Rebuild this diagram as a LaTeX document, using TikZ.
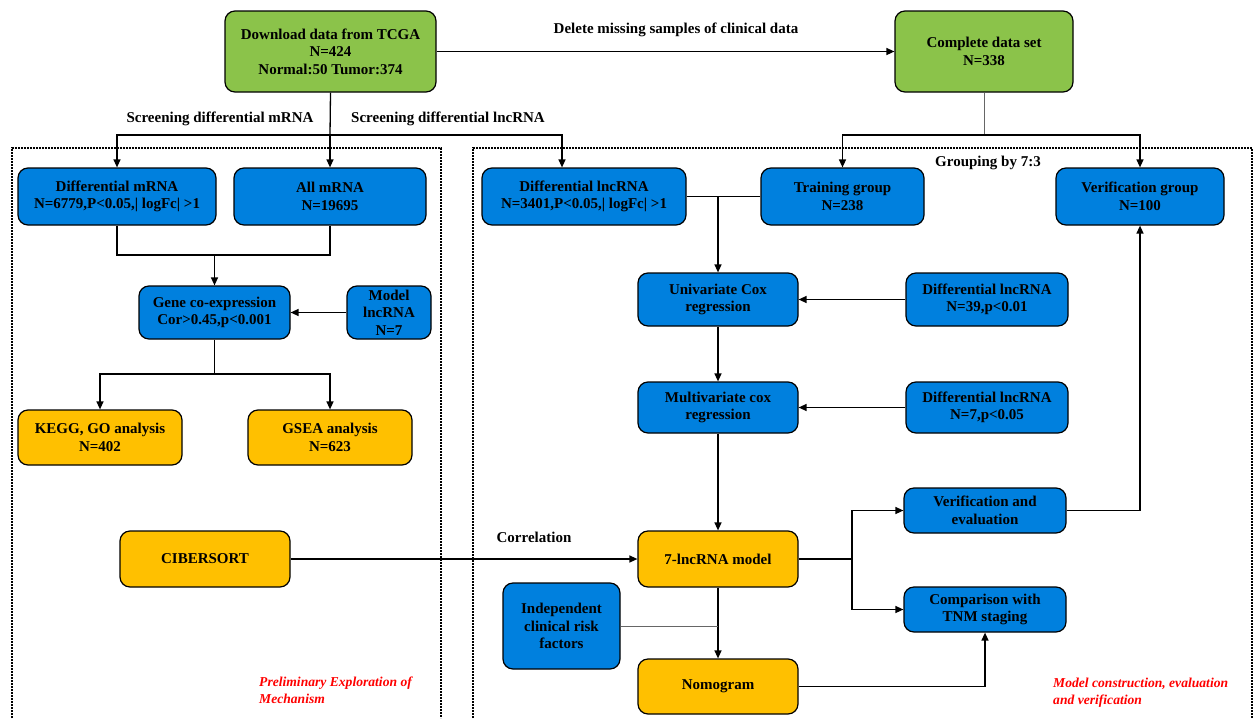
\documentclass[tikz,border=0pt]{standalone}
\usepackage{fontspec}
\setmainfont{Liberation Serif}
\usetikzlibrary{arrows.meta,calc}
\definecolor{gbox}{RGB}{139,195,74}
\definecolor{bbox}{RGB}{0,128,222}
\definecolor{obox}{RGB}{255,192,0}
\definecolor{redtxt}{RGB}{255,0,0}
\begin{document}
\begin{tikzpicture}[x=1pt,y=-1pt,
  box/.style={draw=black, line width=1.2pt, rounded corners=10pt, inner sep=0pt, align=center,
    font=\bfseries\fontsize{15}{17.5}\selectfont},
  gbx/.style={box, fill=gbox},
  bbx/.style={box, fill=bbox},
  obx/.style={box, fill=obox},
  conn/.style={draw=black, line width=1.3pt},
  arr/.style={conn, -{Triangle[length=8pt,width=7pt]}},
  thin gray/.style={draw=black!60, line width=1pt},
  lbl/.style={font=\bfseries\fontsize{15}{17.5}\selectfont, inner sep=0pt},
  redlbl/.style={font=\bfseries\itshape\fontsize{13.6}{17}\selectfont, text=redtxt, align=left, inner sep=0pt, anchor=west},
  dotbox/.style={draw=black, line width=1.6pt, dash pattern=on 1.6pt off 1.4pt}
]
\useasboundingbox (0,0) rectangle (1256,718);

% dotted frames
\draw[dotbox] (12,718) -- (12,148) -- (441,148) -- (441,718);
\draw[dotbox] (473,718) -- (473,148) -- (1252,148) -- (1252,718);

% nodes
\node[gbx, minimum width=211pt, minimum height=81pt] (dl) at (330.5,51.5) {Download data from TCGA\\N=424\\Normal:50 Tumor:374};
\node[gbx, minimum width=178pt, minimum height=81pt] (cd) at (984,51.5) {Complete data set\\N=338};

\node[bbx, minimum width=198pt, minimum height=57pt] (dm) at (117,196.5) {Differential mRNA\\N=6779,P<0.05,| logFc| >1};
\node[bbx, minimum width=192pt, minimum height=57pt] (am) at (330,196.5) {All mRNA\\N=19695};
\node[bbx, minimum width=204pt, minimum height=57pt] (dlnc) at (584,196.5) {Differential lncRNA\\N=3401,P<0.05,| logFc| >1};
\node[bbx, minimum width=163pt, minimum height=57pt] (tg) at (842.5,196.5) {Training group\\N=238};
\node[bbx, minimum width=168pt, minimum height=57pt] (vg) at (1140,196.5) {Verification group\\N=100};

\node[bbx, minimum width=151pt, minimum height=53pt] (gc) at (214.5,312.5) {Gene co-expression\\Cor>0.45,p<0.001};
\node[bbx, minimum width=84pt, minimum height=53pt] (ml) at (389,312.5) {Model\\lncRNA\\N=7};

\node[obx, minimum width=164pt, minimum height=55pt] (kegg) at (100,437.5) {KEGG, GO analysis\\N=402};
\node[obx, minimum width=164pt, minimum height=55pt] (gsea) at (330,437.5) {GSEA analysis\\N=623};

\node[bbx, minimum width=160pt, minimum height=53pt] (uc) at (718,299.5) {Univariate Cox\\regression};
\node[bbx, minimum width=162pt, minimum height=53pt] (d39) at (987,299.5) {Differential lncRNA\\N=39,p<0.01};
\node[bbx, minimum width=160pt, minimum height=51pt] (mc) at (718,407.5) {Multivariate cox\\regression};
\node[bbx, minimum width=162pt, minimum height=51pt] (d7) at (987,407.5) {Differential lncRNA\\N=7,p<0.05};

\node[obx, minimum width=170pt, minimum height=56pt] (cib) at (205,559) {CIBERSORT};
\node[obx, minimum width=160pt, minimum height=56pt] (m7) at (718,559) {7-lncRNA model};
\node[bbx, minimum width=162pt, minimum height=45pt] (ve) at (985,510.5) {Verification and\\evaluation};
\node[bbx, minimum width=162pt, minimum height=45pt] (cmp) at (985,609.5) {Comparison with\\TNM staging};
\node[bbx, minimum width=117pt, minimum height=86pt] (ind) at (561.5,626) {Independent\\clinical risk\\factors};
\node[obx, minimum width=160pt, minimum height=55pt] (nomo) at (718,686.5) {Nomogram};

% labels
\node[lbl] (l1) at (676,30) {Delete missing samples of clinical data};
\node[lbl] (l2) at (220,119) {Screening differential mRNA};
\node[lbl] (l3) at (448,119) {Screening differential lncRNA};
\node[lbl] (l4) at (988,163) {Grouping by 7:3};
\node[lbl] (l5) at (534,537) {Correlation};
\node[redlbl] (r1) at (259,690.5) {Preliminary Exploration of\\Mechanism};
\node[redlbl] (r2) at (1053,693) {Model construction, evaluation\\and verification};

% coordinates
\coordinate (s1) at (330,135);
\coordinate (s2) at (984,135);
\coordinate (j1) at (718,196.5);
\coordinate (j2) at (214.5,255);
\coordinate (j3) at (214.5,374);
\coordinate (j4) at (852,559);
\coordinate (j5) at (718,626);

% connectors
\draw[arr] (dl.east) -- (cd.west);
\draw[conn] (dl.south) -- (s1);
\draw[arr] (s1) -| (dm.north);
\draw[arr] (s1) -- (am.north);
\draw[arr] (s1) -| ([xshift=-22pt]dlnc.north);

\draw[thin gray] (cd.south) -- (s2);
\draw[arr] (s2) -| (tg.north);
\draw[arr] (s2) -| (vg.north);

\draw[conn] (dlnc.east) -- (j1);
\draw[conn] (tg.west) -- (j1);
\draw[arr] (j1) -- (uc.north);

\draw[conn] (dm.south) |- (j2);
\draw[conn] (am.south) |- (j2);
\draw[arr] (j2) -- (gc.north);
\draw[arr] (ml.west) -- (gc.east);
\draw[conn] (gc.south) -- (j3);
\draw[arr] (j3) -| (kegg.north);
\draw[arr] (j3) -| (gsea.north);

\draw[arr] (d39.west) -- (uc.east);
\draw[arr] (d7.west) -- (mc.east);
\draw[arr] (uc.south) -- (mc.north);
\draw[arr] (mc.south) -- (m7.north);

\draw[arr] (cib.east) -- (m7.west);
\draw[conn] (m7.east) -- (j4);
\draw[arr] (j4) |- (ve.west);
\draw[arr] (j4) |- (cmp.west);
\draw[arr] (ve.east) -| (vg.south);
\draw[arr] (m7.south) -- (nomo.north);
\draw[thin gray] (ind.east) -- (j5);
\draw[arr] (nomo.east) -| (cmp.south);
\end{tikzpicture}
\end{document}
